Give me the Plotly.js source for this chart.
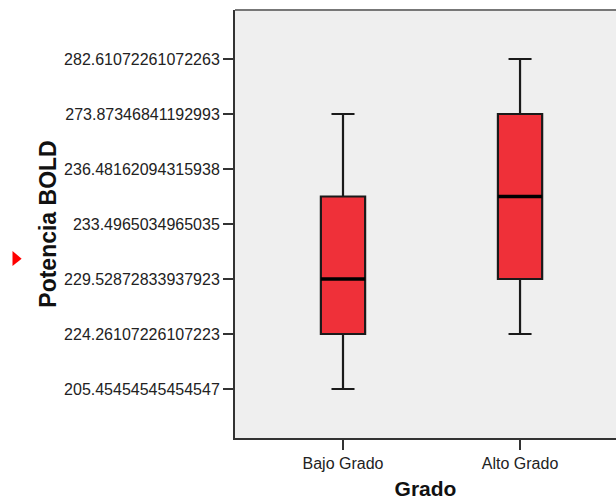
<!DOCTYPE html>
<html>
<head>
<meta charset="utf-8">
<script src="https://cdn.plot.ly/plotly-3.0.1.min.js"></script>
<style>html,body{margin:0;padding:0;background:#fff;}#chart{width:616px;height:501px;}</style>
</head>
<body>
<div id="chart"></div>
<script>
// Categories (x)
var categories = ['Bajo Grado', 'Alto Grado'];
// Y tick labels (SPSS treated the variable as ordinal: equally spaced levels)
var yLabels = [
  '205.45454545454547',
  '224.26107226107223',
  '229.52872833937923',
  '233.4965034965035',
  '236.48162094315938',
  '273.87346841192993',
  '282.61072261072263'
];
// Box statistics, as levels (a pair means halfway between two levels)
var lowerWhisker = ['205.45454545454547', '224.26107226107223'];
var q1Values     = ['224.26107226107223', '229.52872833937923'];
var medianValues = ['229.52872833937923', ['233.4965034965035', '236.48162094315938']];
var q3Values     = [['233.4965034965035', '236.48162094315938'], '273.87346841192993'];
var upperWhisker = ['273.87346841192993', '282.61072261072263'];

function rank(v) {
  if (Array.isArray(v)) {
    var s = 0;
    v.forEach(function (w) { s += yLabels.indexOf(w); });
    return s / v.length;
  }
  return yLabels.indexOf(v);
}
var xPos = categories.map(function (c, i) { return i; });
var boxWidth = 0.25;

var traces = [{
  type: 'box',
  x: xPos,
  q1: q1Values.map(rank),
  median: medianValues.map(rank),
  q3: q3Values.map(rank),
  lowerfence: lowerWhisker.map(rank),
  upperfence: upperWhisker.map(rank),
  width: boxWidth,
  whiskerwidth: 0.52,
  fillcolor: '#EF3039',
  line: {color: '#1a1a1a', width: 2.2},
  boxpoints: false,
  hoverinfo: 'skip',
  showlegend: false
}];
// Thick median lines
xPos.forEach(function (x, i) {
  var m = rank(medianValues[i]);
  traces.push({
    type: 'scatter', mode: 'lines',
    x: [x - boxWidth / 2, x + boxWidth / 2],
    y: [m, m],
    line: {color: '#000', width: 3.4},
    hoverinfo: 'skip', showlegend: false
  });
});

var layout = {
  width: 616, height: 501,
  margin: {l: 235, r: 0, t: 10, b: 63},
  paper_bgcolor: '#ffffff',
  plot_bgcolor: '#EFEFEF',
  font: {family: 'Liberation Sans, Arial, sans-serif', color: '#222', size: 16},
  showlegend: false,
  xaxis: {
    range: [-0.61, 1.542],
    tickvals: xPos,
    ticktext: categories,
    ticks: 'outside', ticklen: 10, tickwidth: 1.8, tickcolor: '#333',
    showline: true, linecolor: '#333', linewidth: 2,
    showgrid: false, zeroline: false,
    tickfont: {size: 16, color: '#222'},
    title: {text: 'Grado', font: {size: 21, color: '#111', family: 'Liberation Sans, Arial, sans-serif', weight: 'bold'}, standoff: 10}
  },
  yaxis: {
    range: [-0.891, 6.891],
    tickvals: yLabels.map(function (v, i) { return i; }),
    ticktext: yLabels,
    ticks: 'outside', ticklen: 10, tickwidth: 1.8, tickcolor: '#333',
    showline: true, linecolor: '#333', linewidth: 2,
    showgrid: false, zeroline: false,
    tickfont: {size: 16, color: '#222'},
    title: {text: 'Potencia BOLD', font: {size: 23, color: '#111', family: 'Liberation Sans, Arial, sans-serif', weight: 'bold'}, standoff: 1}
  },
  shapes: [
    {type: 'line', xref: 'paper', yref: 'paper', x0: 0, x1: 1, y0: 1, y1: 1,
     line: {color: '#777', width: 2}},
    {type: 'path', xref: 'paper', yref: 'paper',
     path: 'M -0.584 0.437 L -0.560 0.419 L -0.584 0.402 Z',
     fillcolor: '#FF0000', line: {width: 0}}
  ]
};

Plotly.newPlot('chart', traces, layout, {displayModeBar: false, staticPlot: true});
</script>
</body>
</html>
